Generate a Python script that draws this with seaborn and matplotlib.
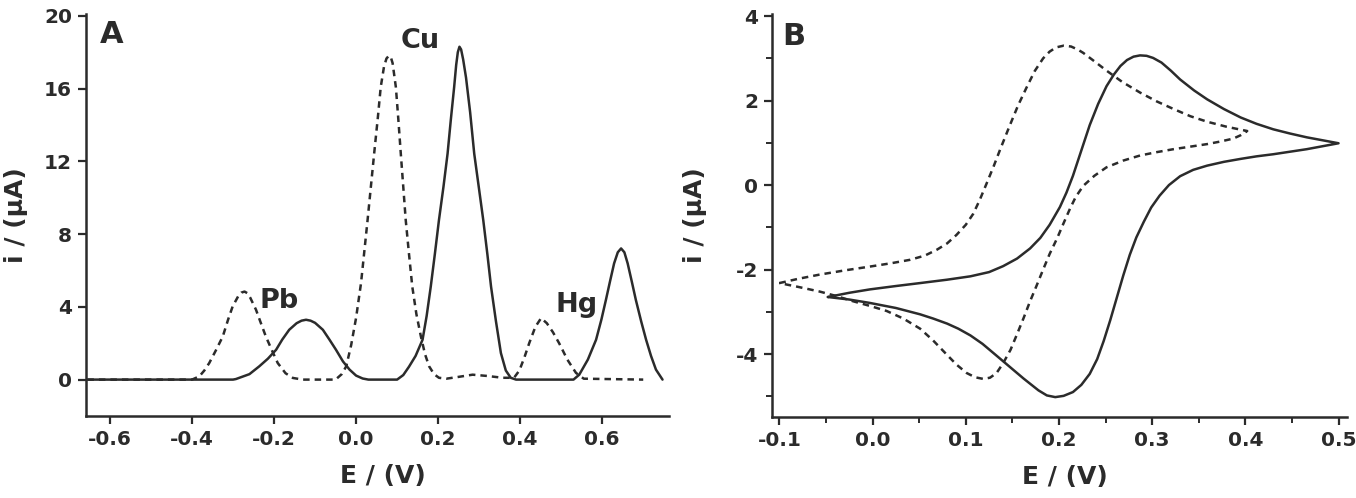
import matplotlib
matplotlib.use("Agg")
import matplotlib.pyplot as plt
from matplotlib.ticker import MultipleLocator
import seaborn as sns
import pandas as pd

# --- panel A: stripping voltammograms (E / V, i / uA) ---
e_solid_a = [-0.655, -0.30, -0.293, -0.26, -0.236, -0.215, -0.195, -0.18, -0.163, -0.145,
             -0.133, -0.122, -0.111, -0.10, -0.081, -0.065, -0.049, -0.032, -0.016, 0.0,
             0.016, 0.03, 0.10, 0.115, 0.129, 0.145, 0.162, 0.172, 0.182, 0.192,
             0.202, 0.213, 0.223, 0.231, 0.239, 0.244, 0.248, 0.252, 0.256, 0.261,
             0.268, 0.278, 0.288, 0.299, 0.310, 0.320, 0.329, 0.341, 0.353, 0.365,
             0.377, 0.39, 0.53, 0.544, 0.565, 0.585, 0.598, 0.609, 0.619, 0.629,
             0.638, 0.646, 0.654, 0.662, 0.672, 0.682, 0.695, 0.707, 0.719, 0.731,
             0.747]
i_solid_a = [0.0, 0.0, 0.03, 0.3, 0.73, 1.15, 1.64, 2.2, 2.74, 3.1,
             3.24, 3.29, 3.24, 3.12, 2.74, 2.2, 1.64, 1.0, 0.55, 0.22,
             0.06, 0.0, 0.0, 0.25, 0.71, 1.3, 2.19, 3.5, 5.11, 6.9,
             8.77, 10.6, 12.42, 14.3, 16.07, 17.3, 18.0, 18.3, 18.15, 17.6,
             16.6, 14.7, 12.42, 10.6, 8.77, 6.9, 5.11, 3.2, 1.46, 0.5,
             0.1, 0.0, 0.0, 0.27, 1.1, 2.19, 3.3, 4.38, 5.4, 6.39,
             7.0, 7.21, 7.0, 6.39, 5.4, 4.38, 3.2, 2.19, 1.3, 0.55,
             0.0]

e_dash_a = [-0.655, -0.40, -0.382, -0.37, -0.358, -0.342, -0.325, -0.312, -0.301, -0.287,
            -0.28, -0.272, -0.265, -0.258, -0.244, -0.232, -0.220, -0.205, -0.191, -0.172,
            -0.154, -0.13, -0.05, -0.035, -0.024, -0.012, 0.0, 0.012, 0.028, 0.044,
            0.053, 0.060, 0.068, 0.074, 0.080, 0.085, 0.089, 0.097, 0.103, 0.109,
            0.115, 0.121, 0.129, 0.137, 0.147, 0.158, 0.168, 0.178, 0.19, 0.202,
            0.22, 0.25, 0.284, 0.32, 0.357, 0.385, 0.398, 0.41, 0.422, 0.437,
            0.451, 0.465, 0.48, 0.495, 0.515, 0.536, 0.555, 0.70]
i_dash_a = [0.0, 0.0, 0.18, 0.5, 0.91, 1.6, 2.37, 3.3, 4.02, 4.6,
            4.78, 4.84, 4.75, 4.5, 3.84, 3.1, 2.37, 1.6, 0.91, 0.35,
            0.09, 0.0, 0.0, 0.3, 0.73, 1.9, 3.4, 5.3, 8.77, 12.42,
            14.4, 16.07, 17.2, 17.65, 17.81, 17.7, 17.4, 16.07, 14.3, 12.42,
            10.6, 8.77, 6.9, 5.11, 3.6, 2.37, 1.4, 0.73, 0.3, 0.1,
            0.05, 0.15, 0.27, 0.2, 0.1, 0.1, 0.5, 1.2, 2.0, 2.9,
            3.38, 3.1, 2.6, 2.0, 1.1, 0.37, 0.05, 0.0]

# --- panel B: cyclic voltammograms (closed loops) ---
e_solid_b = [-0.048, -0.025, -0.003, 0.025, 0.051, 0.080, 0.105, 0.125, 0.140, 0.155,
             0.169, 0.180, 0.190, 0.201, 0.208, 0.215, 0.224, 0.233, 0.242, 0.251,
             0.259, 0.266, 0.273, 0.280, 0.287, 0.294, 0.301, 0.310, 0.320, 0.330,
             0.345, 0.359, 0.377, 0.395, 0.412, 0.430, 0.448, 0.466, 0.483, 0.500,
             0.483, 0.466, 0.448, 0.430, 0.412, 0.395, 0.377, 0.359, 0.344, 0.330,
             0.318, 0.308, 0.299, 0.291, 0.283, 0.276, 0.269, 0.262, 0.255, 0.248,
             0.241, 0.233, 0.224, 0.215, 0.205, 0.196, 0.187, 0.178, 0.162, 0.147,
             0.132, 0.118, 0.105, 0.092, 0.080, 0.065, 0.051, 0.025, -0.003, -0.025,
             -0.048]
i_solid_b = [-2.65, -2.55, -2.47, -2.39, -2.32, -2.24, -2.16, -2.06, -1.92, -1.74,
             -1.50, -1.25, -0.94, -0.52, -0.18, 0.22, 0.82, 1.42, 1.92, 2.34,
             2.62, 2.82, 2.96, 3.04, 3.07, 3.06, 3.01, 2.90, 2.71, 2.50,
             2.24, 2.03, 1.80, 1.60, 1.45, 1.32, 1.22, 1.13, 1.06, 0.99,
             0.92, 0.85, 0.79, 0.73, 0.68, 0.62, 0.55, 0.46, 0.36, 0.21,
             0.00, -0.25, -0.53, -0.87, -1.24, -1.65, -2.14, -2.67, -3.20, -3.69,
             -4.12, -4.47, -4.73, -4.90, -4.99, -5.02, -4.98, -4.86, -4.58, -4.30,
             -4.02, -3.76, -3.56, -3.40, -3.28, -3.16, -3.06, -2.91, -2.79, -2.71,
             -2.65]

e_dash_b = [-0.100, -0.080, -0.057, -0.030, -0.003, 0.020, 0.040, 0.056, 0.069, 0.080,
            0.090, 0.100, 0.108, 0.115, 0.122, 0.130, 0.137, 0.147, 0.156, 0.165,
            0.174, 0.183, 0.190, 0.197, 0.205, 0.213, 0.220, 0.226, 0.238, 0.251,
            0.268, 0.287, 0.305, 0.323, 0.341, 0.359, 0.380, 0.402, 0.395, 0.387,
            0.373, 0.359, 0.341, 0.323, 0.305, 0.287, 0.269, 0.251, 0.238, 0.226,
            0.218, 0.212, 0.205, 0.198, 0.190, 0.183, 0.176, 0.169, 0.162, 0.155,
            0.148, 0.140, 0.133, 0.126, 0.119, 0.110, 0.101, 0.090, 0.079, 0.065,
            0.051, 0.033, 0.015, -0.003, -0.021, -0.040, -0.057, -0.080, -0.100]
i_dash_b = [-2.32, -2.22, -2.12, -2.02, -1.93, -1.85, -1.77, -1.67, -1.53, -1.38,
            -1.18, -0.94, -0.68, -0.35, 0.02, 0.45, 0.85, 1.40, 1.88, 2.30,
            2.70, 3.00, 3.16, 3.26, 3.30, 3.28, 3.21, 3.13, 2.93, 2.71,
            2.44, 2.19, 1.98, 1.80, 1.63, 1.50, 1.38, 1.28, 1.18, 1.10,
            1.03, 0.97, 0.91, 0.85, 0.78, 0.70, 0.58, 0.42, 0.22, -0.02,
            -0.28, -0.55, -0.90, -1.26, -1.63, -2.00, -2.38, -2.75, -3.15, -3.53,
            -3.90, -4.22, -4.45, -4.56, -4.59, -4.55, -4.45, -4.25, -4.00, -3.68,
            -3.40, -3.16, -2.98, -2.86, -2.75, -2.62, -2.52, -2.41, -2.32]

sns.set_theme(style="ticks")
plt.rcParams["font.family"] = ["DejaVu Sans"]
plt.rcParams["font.weight"] = "bold"
plt.rcParams["axes.unicode_minus"] = False

ink = "#2b2b2b"
dash = (0, (2.6, 2.0))

fig = plt.figure(figsize=(13.56, 4.98), dpi=100)
ax_a = fig.add_axes([0.0634, 0.1647, 0.4299, 0.8072])
ax_b = fig.add_axes([0.5693, 0.1627, 0.4240, 0.8092])

df_sa = pd.DataFrame({"E": e_solid_a, "i": i_solid_a})
df_da = pd.DataFrame({"E": e_dash_a, "i": i_dash_a})
sns.lineplot(data=df_da, x="E", y="i", sort=False, estimator=None, ax=ax_a,
             color=ink, linewidth=1.8, linestyle=dash)
sns.lineplot(data=df_sa, x="E", y="i", sort=False, estimator=None, ax=ax_a,
             color=ink, linewidth=1.8)

df_sb = pd.DataFrame({"E": e_solid_b, "i": i_solid_b})
df_db = pd.DataFrame({"E": e_dash_b, "i": i_dash_b})
sns.lineplot(data=df_db, x="E", y="i", sort=False, estimator=None, ax=ax_b,
             color=ink, linewidth=1.8, linestyle=dash)
sns.lineplot(data=df_sb, x="E", y="i", sort=False, estimator=None, ax=ax_b,
             color=ink, linewidth=1.8)

ax_a.set_xlim(-0.6585, 0.7626)
ax_a.set_ylim(-2.0, 20.1)
ax_a.set_xticks([-0.6, -0.4, -0.2, 0.0, 0.2, 0.4, 0.6])
ax_a.set_yticks([0, 4, 8, 12, 16, 20])
ax_a.set_xticklabels(["-0.6", "-0.4", "-0.2", "0.0", "0.2", "0.4", "0.6"])

ax_b.set_xlim(-0.108, 0.509)
ax_b.set_ylim(-5.49, 4.05)
ax_b.set_xticks([-0.1, 0.0, 0.1, 0.2, 0.3, 0.4, 0.5])
ax_b.set_xticklabels(["-0.1", "0.0", "0.1", "0.2", "0.3", "0.4", "0.5"])
ax_b.set_yticks([-4, -2, 0, 2, 4])
ax_b.xaxis.set_minor_locator(MultipleLocator(0.05))
ax_b.yaxis.set_minor_locator(MultipleLocator(1))

for ax in (ax_a, ax_b):
    sns.despine(ax=ax)
    for s in ("left", "bottom"):
        ax.spines[s].set_linewidth(1.8)
        ax.spines[s].set_color(ink)
    ax.tick_params(which="major", length=6, width=1.6, color=ink,
                   labelsize=14.5, labelcolor=ink, pad=4)
    ax.tick_params(which="minor", length=4, width=1.4, color=ink)
    for lab in ax.get_xticklabels() + ax.get_yticklabels():
        lab.set_fontweight("bold")
    ax.set_xlabel("E / (V)", fontsize=18, fontweight="bold", color=ink)
    ax.set_ylabel("i / (\u03bcA)", fontsize=18, fontweight="bold", color=ink)
    ax.xaxis.set_label_coords(0.51, -0.12)

ax_a.yaxis.set_label_coords(-0.099, 0.5)
ax_b.yaxis.set_label_coords(-0.113, 0.5)

ax_a.text(-0.595, 18.49, "A", fontsize=22, fontweight="bold", color=ink,
          ha="center", va="baseline")
ax_b.text(-0.0845, 3.32, "B", fontsize=22, fontweight="bold", color=ink,
          ha="center", va="baseline")
ax_a.text(0.157, 18.21, "Cu", fontsize=19.5, fontweight="bold", color=ink,
          ha="center", va="baseline")
ax_a.text(-0.187, 3.92, "Pb", fontsize=19.5, fontweight="bold", color=ink,
          ha="center", va="baseline")
ax_a.text(0.537, 3.73, "Hg", fontsize=19.5, fontweight="bold", color=ink,
          ha="center", va="baseline")

fig.savefig("out.png", dpi=100, facecolor="white")
